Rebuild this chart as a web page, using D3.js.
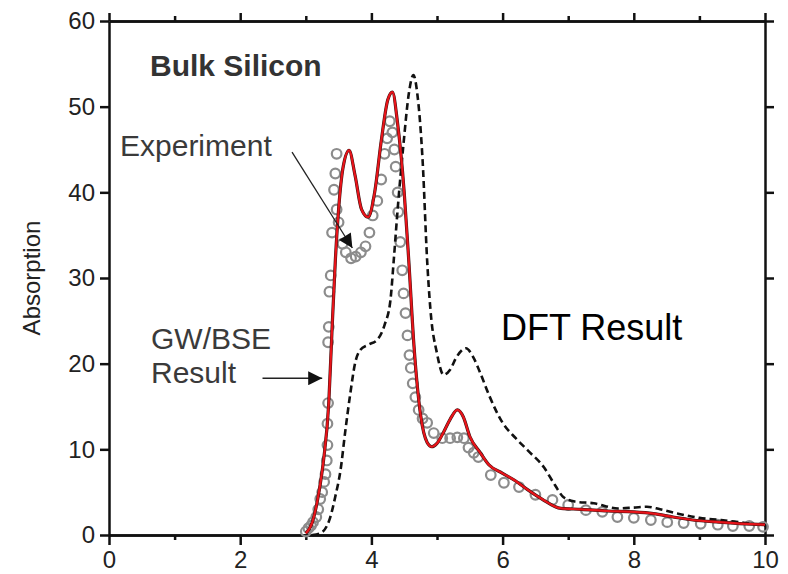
<!DOCTYPE html>
<html>
<head>
<meta charset="utf-8">
<script src="https://cdn.jsdelivr.net/npm/d3@7"></script>
<style>
  body { margin: 0; background: #fff; }
  text { font-family: "Liberation Sans", Arial, sans-serif; }
</style>
</head>
<body>
<div id="chart"></div>
<script>
// Data (energy, absorption)
const experiment = [
  [3.00, 0.4], [3.04, 0.8], [3.08, 1.1], [3.11, 1.5], [3.16, 2.1], [3.19, 3.0],
  [3.22, 4.2], [3.25, 5.0], [3.28, 6.2], [3.30, 7.1], [3.32, 8.7], [3.33, 10.5],
  [3.33, 13.0], [3.34, 15.4], [3.34, 22.5], [3.35, 24.3], [3.36, 28.4], [3.38, 30.3],
  [3.40, 35.3], [3.43, 40.3], [3.45, 42.2], [3.47, 44.5], [3.47, 38.0], [3.50, 36.5],
  [3.56, 34.0], [3.61, 33.0], [3.69, 32.3], [3.76, 32.5], [3.84, 33.0], [3.91, 33.7],
  [3.97, 35.3], [4.02, 37.3], [4.09, 39.0], [4.15, 41.5], [4.20, 44.5], [4.24, 46.3],
  [4.28, 48.3], [4.32, 47.0], [4.35, 45.0], [4.37, 43.0], [4.40, 40.0], [4.41, 37.7],
  [4.44, 34.2], [4.47, 30.9], [4.49, 28.2], [4.52, 25.9], [4.55, 23.3], [4.58, 21.0],
  [4.60, 19.5], [4.63, 17.7], [4.67, 16.1], [4.72, 14.6], [4.78, 13.6], [4.85, 13.1],
  [4.95, 11.9], [5.08, 11.3], [5.20, 11.3], [5.31, 11.4], [5.41, 11.3], [5.48, 10.2],
  [5.56, 9.6], [5.63, 9.1], [5.82, 7.0], [6.02, 6.1], [6.25, 5.6], [6.50, 4.7],
  [6.76, 4.1], [7.00, 3.5], [7.27, 2.9], [7.52, 2.7], [7.75, 2.1], [8.00, 2.0],
  [8.26, 1.75], [8.51, 1.5], [8.76, 1.4], [9.02, 1.3], [9.28, 1.2], [9.51, 1.05],
  [9.76, 1.05], [9.97, 0.95]
];

const gwbse = [
  [3.00, 0.2], [3.10, 1.5], [3.20, 5.0], [3.27, 8.7], [3.35, 15.4], [3.40, 24.0],
  [3.45, 32.0], [3.50, 38.0], [3.57, 43.0], [3.66, 44.9], [3.75, 42.0], [3.85, 38.0],
  [3.95, 37.1], [4.05, 40.0], [4.15, 46.0], [4.25, 50.8], [4.32, 51.7], [4.40, 48.0],
  [4.50, 40.0], [4.57, 32.0], [4.65, 22.0], [4.75, 14.0], [4.85, 10.8], [4.92, 10.3],
  [5.00, 10.7], [5.10, 12.0], [5.20, 13.5], [5.31, 14.6], [5.40, 13.8], [5.50, 11.5],
  [5.66, 9.6], [5.79, 8.2], [6.00, 7.2], [6.20, 6.3], [6.38, 5.3], [6.60, 4.2],
  [6.89, 3.1], [7.20, 3.0], [7.60, 2.8], [8.00, 2.7], [8.30, 2.5], [8.60, 2.1],
  [8.90, 1.75], [9.30, 1.5], [9.70, 1.3], [10.0, 1.2]
];

const dft = [
  [3.10, 0.0], [3.22, 0.2], [3.37, 2.0], [3.45, 4.5], [3.53, 7.6], [3.60, 12.0],
  [3.68, 16.6], [3.75, 20.0], [3.83, 21.6], [3.95, 22.2], [4.09, 22.8], [4.20, 24.5],
  [4.29, 27.4], [4.34, 32.0], [4.40, 38.0], [4.49, 45.7], [4.57, 51.5], [4.64, 53.7],
  [4.70, 51.5], [4.78, 43.8], [4.85, 32.0], [4.90, 26.3], [5.00, 21.2], [5.10, 18.7],
  [5.20, 19.3], [5.30, 20.8], [5.44, 21.8], [5.55, 20.8], [5.66, 18.9], [5.80, 16.2],
  [6.00, 13.1], [6.20, 11.3], [6.38, 9.9], [6.63, 7.9], [6.80, 5.8], [6.93, 4.4],
  [7.10, 3.9], [7.39, 3.7], [7.76, 3.1], [8.00, 3.2], [8.20, 3.3], [8.40, 3.0],
  [8.67, 2.5], [9.00, 2.0], [9.33, 1.75], [9.70, 1.4], [10.0, 1.1]
];

const xTicks = [0, 2, 4, 6, 8, 10];
const xMinorTicks = [1, 3, 5, 7, 9];
const yTicks = [0, 10, 20, 30, 40, 50, 60];

// annotation arrows in data units: [fromX, fromY, toX, toY]
const expArrow = [2.79, 44.7, 3.71, 33.5];
const gwArrow = [2.34, 18.3, 3.25, 18.3];

const width = 788, height = 574;
const margin = { top: 21, right: 23, bottom: 39, left: 109 };

const svg = d3.select("#chart").append("svg")
  .attr("width", width)
  .attr("height", height);

const x = d3.scaleLinear().domain([0, 10]).range([margin.left, width - margin.right]);
const y = d3.scaleLinear().domain([0, 60]).range([height - margin.bottom, margin.top]);

// Axes: frame with outward ticks
const axisStyle = g => {
  g.select(".domain").attr("stroke", "#111").attr("stroke-width", 2.5);
  g.selectAll(".tick line").attr("stroke", "#111").attr("stroke-width", 2.5);
  g.selectAll(".tick text").attr("fill", "#222").style("font-size", "24px");
};

svg.append("g")
  .attr("transform", `translate(0,${y(0)})`)
  .call(d3.axisBottom(x).tickValues(xMinorTicks).tickSize(5).tickFormat("").tickSizeOuter(0))
  .call(axisStyle);
svg.append("g")
  .attr("transform", `translate(0,${y(0)})`)
  .call(d3.axisBottom(x).tickValues(xTicks).tickSize(10).tickPadding(6).tickSizeOuter(0))
  .call(axisStyle);

svg.append("g")
  .attr("transform", `translate(0,${y(60)})`)
  .call(d3.axisTop(x).tickValues(xMinorTicks).tickSize(5).tickFormat("").tickSizeOuter(0))
  .call(axisStyle);
svg.append("g")
  .attr("transform", `translate(0,${y(60)})`)
  .call(d3.axisTop(x).tickValues(xTicks).tickSize(8).tickFormat("").tickSizeOuter(0))
  .call(axisStyle);

svg.append("g")
  .attr("transform", `translate(${x(0)},0)`)
  .call(d3.axisLeft(y).tickValues(yTicks).tickSize(9).tickPadding(5).tickSizeOuter(0))
  .call(axisStyle);

svg.append("g")
  .attr("transform", `translate(${x(10)},0)`)
  .call(d3.axisRight(y).tickValues(yTicks).tickSize(9).tickFormat("").tickSizeOuter(0))
  .call(axisStyle);

// Axis label
svg.append("text")
  .attr("transform", `translate(40,${(y(0) + y(60)) / 2}) rotate(-90)`)
  .attr("text-anchor", "middle")
  .attr("fill", "#222")
  .style("font-size", "24px")
  .text("Absorption");

// Experiment circles
svg.append("g")
  .selectAll("circle")
  .data(experiment)
  .join("circle")
  .attr("cx", d => x(d[0]))
  .attr("cy", d => y(d[1]))
  .attr("r", 4.8)
  .attr("fill", "none")
  .attr("stroke", "#8c8c8c")
  .attr("stroke-width", 2.2);

const line = d3.line()
  .x(d => x(d[0]))
  .y(d => y(d[1]))
  .curve(d3.curveMonotoneX);

// DFT dashed
svg.append("path")
  .datum(dft)
  .attr("d", line)
  .attr("fill", "none")
  .attr("stroke", "#111")
  .attr("stroke-width", 2.6)
  .attr("stroke-dasharray", "7,4");

// GW/BSE red with dark edge
svg.append("path")
  .datum(gwbse)
  .attr("d", line)
  .attr("fill", "none")
  .attr("stroke", "#3a1010")
  .attr("stroke-width", 3.2);
svg.append("path")
  .datum(gwbse)
  .attr("d", line)
  .attr("fill", "none")
  .attr("stroke", "#e8141a")
  .attr("stroke-width", 2.2);

// Arrows
svg.append("defs").append("marker")
  .attr("id", "head")
  .attr("viewBox", "0 0 10 10")
  .attr("refX", 10).attr("refY", 5)
  .attr("markerUnits", "userSpaceOnUse")
  .attr("markerWidth", 22).attr("markerHeight", 14)
  .attr("orient", "auto")
  .append("path")
  .attr("d", "M0,0L10,5L0,10Z")
  .attr("fill", "#111");

[expArrow, gwArrow].forEach(a => {
  svg.append("line")
    .attr("x1", x(a[0])).attr("y1", y(a[1]))
    .attr("x2", x(a[2])).attr("y2", y(a[3]))
    .attr("stroke", "#222")
    .attr("stroke-width", 1.3)
    .attr("marker-end", "url(#head)");
});

// Text annotations
svg.append("text")
  .attr("x", 150).attr("y", 76)
  .attr("fill", "#333")
  .style("font-size", "30px")
  .style("font-weight", "bold")
  .text("Bulk Silicon");

svg.append("text")
  .attr("x", 120).attr("y", 156)
  .attr("fill", "#3a3a3a")
  .style("font-size", "30px")
  .text("Experiment");

svg.append("text")
  .attr("x", 151).attr("y", 349)
  .attr("fill", "#3a3a3a")
  .style("font-size", "30px")
  .text("GW/BSE");
svg.append("text")
  .attr("x", 151).attr("y", 383)
  .attr("fill", "#3a3a3a")
  .style("font-size", "30px")
  .text("Result");

svg.append("text")
  .attr("x", 501).attr("y", 340)
  .attr("fill", "#000")
  .style("font-size", "36px")
  .text("DFT Result");
</script>
</body>
</html>
